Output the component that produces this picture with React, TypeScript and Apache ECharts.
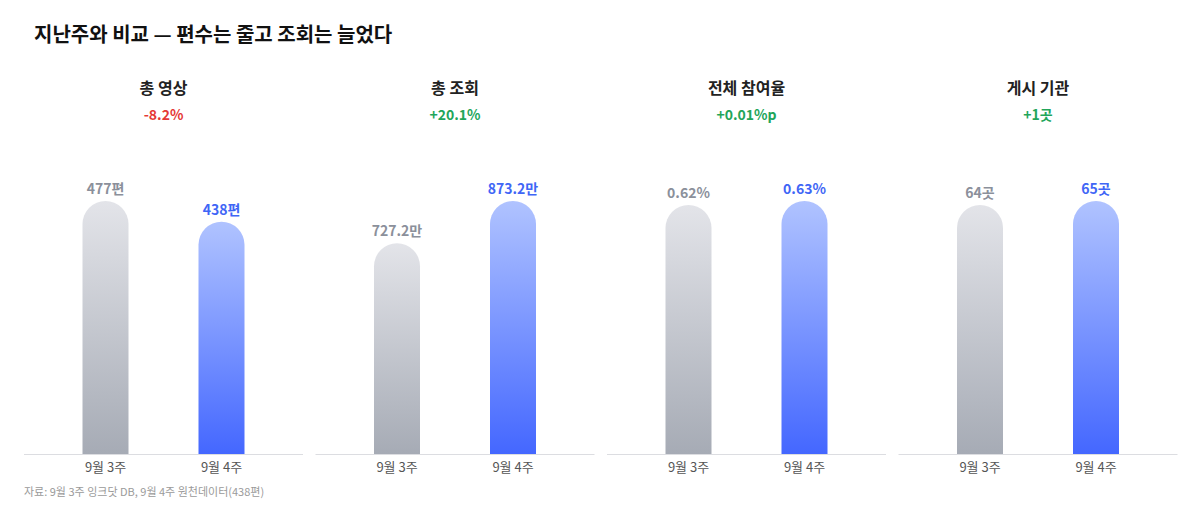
import React, { useEffect, useRef } from 'react';
import * as echarts from 'echarts';
import type { EChartsOption } from 'echarts';

const weeks = ['9월 3주', '9월 4주'];
const metricNames = ['총 영상', '총 조회', '전체 참여율', '게시 기관'];
const changeLabels = ['-8.2%', '+20.1%', '+0.01%p', '+1곳'];
const changeUp = [false, true, true, true];
const videoCounts = [477, 438];
const viewCounts = [727.2, 873.2]; // 만 회
const engagementRates = [0.62, 0.63]; // %
const agencyCounts = [64, 65];
const units = ['편', '만', '%', '곳'];
const decimals = [0, 1, 2, 0];

const FONT = '"Noto Sans CJK KR", "Noto Sans", sans-serif';

const App: React.FC = () => {
  const chartRef = useRef<HTMLDivElement>(null);

  useEffect(() => {
    document.body.style.margin = '0';
    if (!chartRef.current) return;
    const chart = echarts.init(chartRef.current, undefined, { renderer: 'svg' });

    const panels = [videoCounts, viewCounts, engagementRates, agencyCounts];
    const centers = panels.map((_, i) => 163.5 + i * 291.5);
    const grayBar = new echarts.graphic.LinearGradient(0, 0, 0, 1, [
      { offset: 0, color: '#e3e4e9' },
      { offset: 1, color: '#a6abb5' },
    ]);
    const blueBar = new echarts.graphic.LinearGradient(0, 0, 0, 1, [
      { offset: 0, color: '#b0c3ff' },
      { offset: 1, color: '#4467ff' },
    ]);

    const option: EChartsOption = {
      animation: false,
      textStyle: { fontFamily: FONT },
      title: [
        {
          text: '지난주와 비교 — 편수는 줄고 조회는 늘었다',
          left: 34,
          top: 21,
          padding: 0,
          textStyle: { fontSize: 20, fontWeight: 'bold', color: '#111', lineHeight: 24, fontFamily: FONT },
        },
        ...metricNames.map((name, i) => ({
          text: name,
          subtext: changeLabels[i],
          left: centers[i],
          textAlign: 'center' as const,
          top: 77,
          padding: 0,
          itemGap: 8,
          textStyle: { fontSize: 16, fontWeight: 'bold' as const, color: '#222', lineHeight: 20, fontFamily: FONT },
          subtextStyle: {
            fontSize: 14,
            fontWeight: 'bold' as const,
            color: changeUp[i] ? '#22a55a' : '#e53935',
            lineHeight: 18,
            fontFamily: FONT,
          },
        })),
        {
          text: '자료: 9월 3주 잉크닷 DB, 9월 4주 원천데이터(438편)',
          left: 24,
          top: 484,
          padding: 0,
          textStyle: { fontSize: 11, fontWeight: 'normal', color: '#9a9a9a', lineHeight: 14, fontFamily: FONT },
        },
      ],
      grid: centers.map((c) => ({ left: c - 116, width: 232, top: 201, bottom: 66 })),
      xAxis: centers.map((_, i) => ({
        type: 'category' as const,
        gridIndex: i,
        data: weeks,
        axisLine: { show: false },
        axisTick: { show: false },
        axisLabel: { fontSize: 13, color: '#555', margin: 6, fontFamily: FONT },
      })),
      yAxis: panels.map((vals, i) => ({
        type: 'value' as const,
        gridIndex: i,
        min: 0,
        max: Math.max(...vals),
        show: false,
        splitLine: { show: false },
      })),
      series: panels.map((vals, i) => ({
        type: 'bar' as const,
        xAxisIndex: i,
        yAxisIndex: i,
        barWidth: 46,
        data: vals.map((v, j) => ({
          value: v,
          itemStyle: { color: j === 0 ? grayBar : blueBar, borderRadius: [23, 23, 0, 0] },
          label: {
            show: true,
            position: 'top' as const,
            distance: 6,
            fontSize: 14,
            fontWeight: 'bold' as const,
            fontFamily: FONT,
            color: j === 0 ? '#8b909b' : '#3f66f6',
            formatter: () => v.toFixed(decimals[i]) + units[i],
          },
        })),
      })),
      graphic: centers.map((c) => ({
        type: 'line' as const,
        shape: { x1: c - 139.5, y1: 454.5, x2: c + 139.5, y2: 454.5 },
        style: { stroke: '#dcdde1', lineWidth: 1 },
        z: 10,
      })),
    };

    chart.setOption(option);
    return () => chart.dispose();
  }, []);

  return <div ref={chartRef} style={{ width: 1200, height: 520 }} />;
};

export default App;
